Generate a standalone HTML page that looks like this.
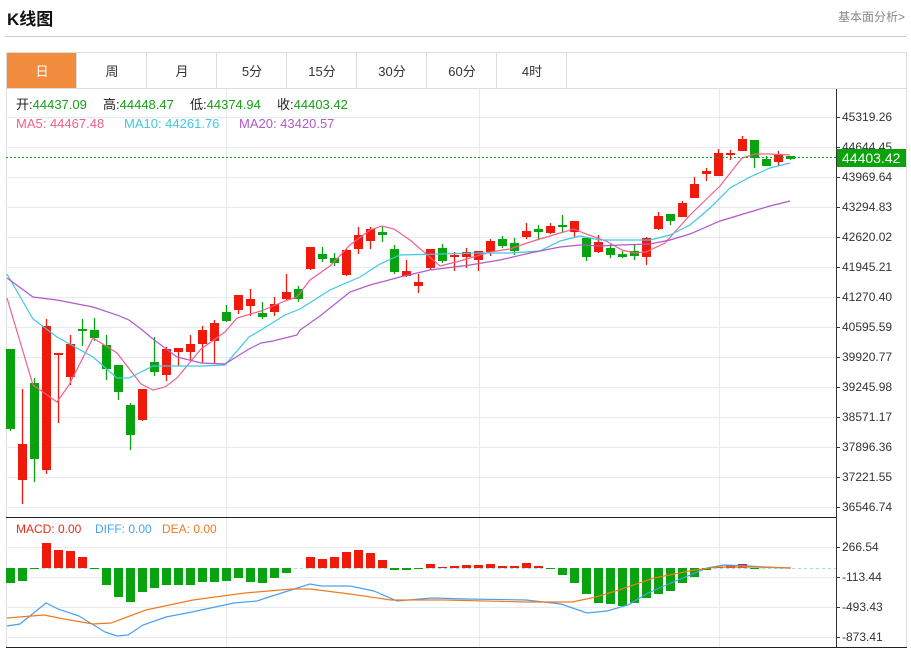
<!DOCTYPE html>
<html><head><meta charset="utf-8">
<style>
body{margin:0;background:#fff;width:911px;height:650px;overflow:hidden;font-family:"Liberation Sans","Noto Sans CJK SC",sans-serif;}
#t{position:absolute;left:7px;top:5px;font-size:17px;font-weight:bold;color:#111;}
#r{position:absolute;left:838px;top:8px;font-size:12px;color:#888;}
#hl{position:absolute;left:5px;top:36px;width:901px;height:1px;background:#ccc;}
svg{position:absolute;left:0;top:0;}
</style></head><body>
<div id="t">K线图</div><div id="r">基本面分析&gt;</div><div id="hl"></div>
<svg id="s" width="911" height="650" xmlns="http://www.w3.org/2000/svg" font-family="Liberation Sans, Noto Sans CJK SC, sans-serif"></svg>
<script>
var s='';
s+='<rect x="6.5" y="52.5" width="900" height="595" fill="#fff" stroke="#ddd"/>';
s+='<line x1="6" y1="88.5" x2="907" y2="88.5" stroke="#ddd"/>';
var tabs=['日','周','月','5分','15分','30分','60分','4时'];
for(var i=0;i<8;i++){var x=7+i*70;
 if(i==0)s+='<rect x="7" y="53" width="69" height="35" fill="#f18b3e"/>';
 s+='<line x1="'+(x+69.5)+'" y1="53" x2="'+(x+69.5)+'" y2="88" stroke="#ddd"/>';
 s+='<text x="'+(x+35)+'" y="76" font-size="13" text-anchor="middle" fill="'+(i==0?'#fff':'#333')+'">'+tabs[i]+'</text>';}
var ticks=['45319.26','44644.45','43969.64','43294.83','42620.02','41945.21','41270.40','40595.59','39920.77','39245.98','38571.17','37896.36','37221.55','36546.74'];
for(var i=0;i<14;i++){var y=117+i*30;s+='<line x1="6" y1="'+(y+.5)+'" x2="836" y2="'+(y+.5)+'" stroke="#e5ebf0"/>';
 s+='<line x1="836" y1="'+(y+.5)+'" x2="840" y2="'+(y+.5)+'" stroke="#333"/>';
 s+='<text x="842" y="'+(y+4)+'" font-size="12" fill="#333">'+ticks[i]+'</text>';}
[226,479,719].forEach(function(x){s+='<line x1="'+(x+.5)+'" y1="89" x2="'+(x+.5)+'" y2="647" stroke="#e5ebf0"/>';});
var mt=[['266.54',547],['-113.44',577],['-493.43',607],['-873.41',637]];
mt.forEach(function(m){s+='<line x1="6" y1="'+(m[1]+.5)+'" x2="836" y2="'+(m[1]+.5)+'" stroke="#e5ebf0"/><line x1="836" y1="'+(m[1]+.5)+'" x2="840" y2="'+(m[1]+.5)+'" stroke="#333"/><text x="842" y="'+(m[1]+4)+'" font-size="12" fill="#333">'+m[0]+'</text>';});
s+='<line x1="836.5" y1="89" x2="836.5" y2="648" stroke="#333"/>';
s+='<line x1="6" y1="517.5" x2="836" y2="517.5" stroke="#222"/>';
s+='<line x1="6" y1="647.5" x2="907" y2="647.5" stroke="#222"/>';
var C=[['g',349,429,349,431],['r',444,480,389,504],['g',383,459,378,482],['r',326,470,319,474],['r',353,355,354,423],['r',344,377,335,385],['g',329,331,319,346],['g',330,338,318,341],['g',345,369,335,380],['g',365,392,365,400],['g',405,435,403,450],['r',389,420,389,421],['g',362,372,337,376],['r',349,375,347,381],['r',348,352,348,366],['r',344,352,335,360],['r',330,344,326,363],['r',323,341,320,364],['g',312,321,305,322],['r',295,310,295,314],['r',299,306,289,316],['g',313,317,302,319],['r',304,312,297,316],['r',292,299,274,300],['g',289,299,286,302],['r',247,269,247,270],['g',254,259,247,262],['g',258,263,253,266],['r',250,275,249,276],['r',235,249,227,254],['r',229,241,227,249],['g',232,235,227,242],['g',249,272,245,274],['r',271,276,260,277],['r',282,286,274,293],['r',249,268,249,270],['g',248,261,244,263],['r',255,257,252,271],['r',252,257,248,268],['r',251,260,251,271],['r',241,252,239,256],['g',239,246,236,248],['g',243,251,238,255],['r',231,237,223,239],['g',229,232,225,239],['r',226,233,223,234],['g',225,227,215,232],['r',221,232,221,237],['g',238,257,238,261],['r',242,252,235,253],['g',248,255,244,258],['g',254,257,251,258],['g',251,256,245,260],['r',238,257,237,265],['r',216,229,212,230],['g',214,221,214,225],['r',203,217,201,217],['r',184,198,177,198],['r',171,174,168,181],['r',153,176,149,176],['r',153,155,150,160],['r',139,151,136,151],['g',140,158,140,168],['g',159,166,156,166],['r',155,162,151,166],['g',156,159,156,160]];
var RC='#f01a0c',GC='#08a30e';
var step=780/65;
C.forEach(function(c,i){var x=10.5+i*step;var col=c[0]=='r'?RC:GC;
 s+='<line x1="'+x+'" y1="'+c[3]+'" x2="'+x+'" y2="'+c[4]+'" stroke="'+col+'" stroke-width="1.3"/>';
 s+='<rect x="'+(x-4.5)+'" y="'+c[1]+'" width="9" height="'+Math.max(2,c[2]-c[1])+'" fill="'+col+'"/>';});
function pl(p,col){return '<polyline fill="none" stroke="'+col+'" stroke-width="1.2" points="'+p.map(function(a){return a.join(',')}).join(' ')+'"/>';}
s+=pl([[7,298],[33,385],[57,402],[69,385],[93,338],[117,353],[141,384],[153,390],[165,387],[177,378],[201,349],[225,332],[237,318],[261,311],[285,301],[297,297],[310,280],[330,266],[350,245],[370,230],[382,226],[394,229],[410,240],[440,266],[460,261],[490,252],[510,249],[530,242],[560,233],[574,229],[586,234],[606,241],[622,250],[635,253],[646,252],[665,243],[690,215],[720,186],[742,158],[755,154],[770,154],[790,155]],'#f0608c');
s+=pl([[7,274],[33,319],[57,337],[93,357],[117,378],[129,378],[141,372],[153,366],[177,366],[201,366],[225,365],[249,337],[261,330],[285,315],[300,309],[330,290],[360,277],[380,264],[400,255],[440,254],[480,253],[510,253],[540,251],[560,241],[580,236],[600,240],[620,240],[650,240],[670,235],[690,225],[710,208],[730,188],[750,177],[770,168],[790,163]],'#3fc8e0');
s+=pl([[7,278],[33,297],[57,300],[93,307],[117,315],[129,320],[141,329],[153,339],[165,348],[177,357],[201,363],[225,364],[249,349],[261,343],[273,341],[297,335],[300,330],[320,316],[350,292],[370,285],[400,277],[430,270],[470,265],[500,260],[530,253],[560,247],[580,245],[600,246],[620,245],[650,244],[670,240],[690,234],[720,221],[750,212],[770,206],[790,201]],'#b05ac8');
s+='<line x1="6" y1="157.5" x2="836" y2="157.5" stroke="#16a016" stroke-dasharray="2,2"/>';
s+='<rect x="837" y="149" width="69" height="18" fill="#0aa30a"/><text x="842" y="163" font-size="14" fill="#fff">44403.42</text>';
var G='#14a014';
s+='<text x="16" y="109" font-size="13" fill="#222">开:<tspan fill="'+G+'">44437.09</tspan></text>';
s+='<text x="103" y="109" font-size="13" fill="#222">高:<tspan fill="'+G+'">44448.47</tspan></text>';
s+='<text x="190" y="109" font-size="13" fill="#222">低:<tspan fill="'+G+'">44374.94</tspan></text>';
s+='<text x="277" y="109" font-size="13" fill="#222">收:<tspan fill="'+G+'">44403.42</tspan></text>';
s+='<text x="16" y="128" font-size="13" fill="#f0608c">MA5: 44467.48</text><text x="124" y="128" font-size="13" fill="#3fc8e0">MA10: 44261.76</text><text x="239" y="128" font-size="13" fill="#b05ac8">MA20: 43420.57</text>';
s+='<text x="16" y="533" font-size="12" fill="#f02a1a">MACD: 0.00</text><text x="95" y="533" font-size="12" fill="#4aa0f0">DIFF: 0.00</text><text x="162" y="533" font-size="12" fill="#f07a20">DEA: 0.00</text>';
s+='<line x1="6" y1="568.5" x2="836" y2="568.5" stroke="#9fdde8" stroke-dasharray="3,3"/>';
var M=[583,581,569,543,550,551,557,569,585,597,602,592,588,585,585,585,582,582,581,578,582,583,578,573,568,557,559,557,552,550,553,560,570,570,569,564,567,566,565,565,564,566,566,563,566,569,575,583,594,603,604,606,603,598,594,591,583,577,570,567,565,564,569,568,568];
M.forEach(function(y,i){var x=10.5+i*step;var z=568;var col=y<z?RC:GC;var t=Math.min(y,z),h=Math.abs(y-z);if(h<1)return;
 s+='<rect x="'+(x-4.5)+'" y="'+t+'" width="9" height="'+h+'" fill="'+col+'"/>';});
s+=pl([[7,626],[20,624],[46,603],[58,609],[79,616],[105,632],[117,636],[128,635],[143,625],[166,617],[187,613],[234,603],[257,601],[269,597],[310,584],[321,586],[350,586],[374,591],[397,601],[432,598],[467,599],[526,600],[561,604],[587,613],[607,611],[628,605],[648,593],[678,580],[707,568],[724,565],[748,566],[765,567],[791,568]],'#4aa0f0');
s+=pl([[7,618],[44,615],[64,619],[93,624],[111,623],[146,610],[193,600],[245,593],[292,589],[310,589],[350,594],[391,600],[444,600],[526,602],[572,602],[596,597],[619,590],[654,578],[695,570],[718,567],[753,567],[791,568]],'#f07a20');
document.getElementById('s').innerHTML=s;
</script>
</body></html>
